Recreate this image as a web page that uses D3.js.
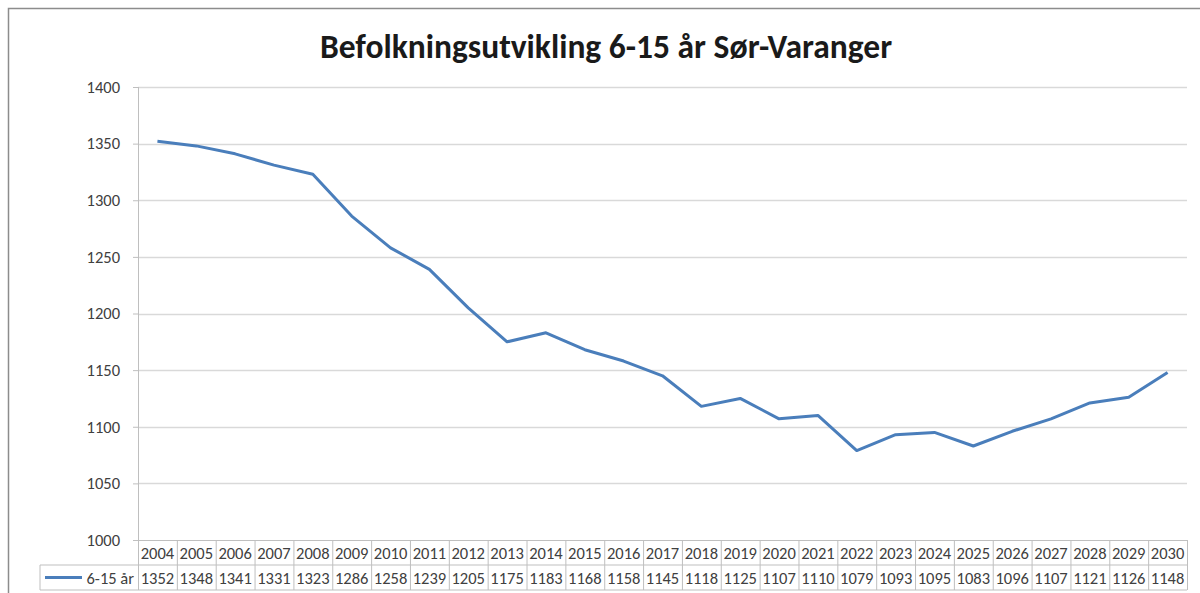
<!DOCTYPE html>
<html>
<head>
<meta charset="utf-8">
<script src="https://cdn.jsdelivr.net/npm/d3@7"></script>
<style>
  body { margin: 0; background: #fff; }
  text { font-family: Carlito, Calibri, Lato, sans-serif; }
</style>
</head>
<body>
<div id="chart"></div>
<script>
// data
var years = [2004, 2005, 2006, 2007, 2008, 2009, 2010, 2011, 2012, 2013, 2014, 2015, 2016, 2017,
             2018, 2019, 2020, 2021, 2022, 2023, 2024, 2025, 2026, 2027, 2028, 2029, 2030];
var values = [1352, 1348, 1341, 1331, 1323, 1286, 1258, 1239, 1205, 1175, 1183, 1168, 1158, 1145,
              1118, 1125, 1107, 1110, 1079, 1093, 1095, 1083, 1096, 1107, 1121, 1126, 1148];
var yTicks = [1000, 1050, 1100, 1150, 1200, 1250, 1300, 1350, 1400];
var seriesName = "6-15 år";
var title = "Befolkningsutvikling 6-15 år Sør-Varanger";

var W = 1200, H = 593;
var margin = {top: 87, left: 138, right: 13, bottom: 53};
var width = W - margin.left - margin.right,
    height = H - margin.top - margin.bottom;
var rowH = 25;
var lineColor = "#4a7ebb";
var gridColor = "#d9d9d9";
var textColor = "#404040";
var cellFont = "16.5px";

var svg = d3.select("#chart").append("svg")
    .attr("width", W)
    .attr("height", H);

// outer chart frame (only the top and left show in the crop)
svg.append("path")
    .attr("d", "M8.5," + H + "V8.5H" + W)
    .attr("fill", "none")
    .attr("stroke", "#8c8c8c")
    .attr("stroke-width", 1.5);

svg.append("text")
    .attr("x", 606)
    .attr("y", 58)
    .attr("text-anchor", "middle")
    .style("font-size", "33.5px")
    .style("font-weight", "bold")
    .style("fill", "#1a1a1a")
    .text(title);

var g = svg.append("g")
    .attr("transform", "translate(" + margin.left + "," + margin.top + ")");

var x = d3.scaleBand()
    .domain(years)
    .range([0, width]);

var y = d3.scaleLinear()
    .domain([1000, 1400])
    .range([height, 0]);

// gridlines
g.selectAll(".grid")
    .data(yTicks.slice(1))
    .enter()
    .append("line")
    .attr("x1", 0)
    .attr("x2", width)
    .attr("y1", function(d) { return Math.round(y(d)) + 0.5; })
    .attr("y2", function(d) { return Math.round(y(d)) + 0.5; })
    .attr("stroke", gridColor)
    .attr("stroke-width", 1.5);

// y axis
var yAxis = g.append("g")
    .call(d3.axisLeft(y).tickValues(yTicks).tickFormat(d3.format("d")).tickSize(5).tickPadding(13));
yAxis.select(".domain").attr("stroke", "#bfbfbf").attr("d", "M0.5,0V" + height);
yAxis.selectAll(".tick line").attr("stroke", "#bfbfbf");
yAxis.selectAll(".tick text")
    .style("font-size", "16.5px")
    .style("fill", textColor);

// data table under the plot
var table = g.append("g").attr("transform", "translate(0," + height + ")");
var tableLeft = 40 - margin.left;

table.append("line")
    .attr("x1", 0).attr("x2", width)
    .attr("y1", 0.5).attr("y2", 0.5)
    .attr("stroke", "#bfbfbf");
table.append("line")
    .attr("x1", tableLeft).attr("x2", width)
    .attr("y1", rowH).attr("y2", rowH)
    .attr("stroke", "#bfbfbf");
table.append("line")
    .attr("x1", tableLeft).attr("x2", width)
    .attr("y1", rowH * 2).attr("y2", rowH * 2)
    .attr("stroke", "#bfbfbf");
table.append("line")
    .attr("x1", tableLeft).attr("x2", tableLeft)
    .attr("y1", rowH).attr("y2", rowH * 2)
    .attr("stroke", "#bfbfbf");

table.selectAll(".sep")
    .data(years.concat(["end"]))
    .enter()
    .append("line")
    .attr("x1", function(d, i) { return i * x.bandwidth() + 0.5; })
    .attr("x2", function(d, i) { return i * x.bandwidth() + 0.5; })
    .attr("y1", 0)
    .attr("y2", rowH * 2)
    .attr("stroke", "#bfbfbf");

table.selectAll(".yr")
    .data(years)
    .enter()
    .append("text")
    .attr("x", function(d) { return x(d) + x.bandwidth() / 2; })
    .attr("y", rowH / 2 + 6)
    .attr("text-anchor", "middle")
    .style("font-size", cellFont)
    .style("fill", textColor)
    .text(function(d) { return d; });

table.selectAll(".val")
    .data(values)
    .enter()
    .append("text")
    .attr("x", function(d, i) { return x(years[i]) + x.bandwidth() / 2; })
    .attr("y", rowH * 1.5 + 6)
    .attr("text-anchor", "middle")
    .style("font-size", cellFont)
    .style("fill", textColor)
    .text(function(d) { return d; });

// legend key in the table
table.append("line")
    .attr("x1", tableLeft + 5).attr("x2", tableLeft + 42)
    .attr("y1", rowH * 1.5).attr("y2", rowH * 1.5)
    .attr("stroke", lineColor)
    .attr("stroke-width", 3);
table.append("text")
    .attr("x", -4)
    .attr("y", rowH * 1.5 + 6)
    .attr("text-anchor", "end")
    .style("font-size", cellFont)
    .style("fill", textColor)
    .text(seriesName);

// the line
var line = d3.line()
    .x(function(d, i) { return x(years[i]) + x.bandwidth() / 2; })
    .y(function(d) { return y(d); });

g.append("path")
    .datum(values)
    .attr("d", line)
    .attr("fill", "none")
    .attr("stroke", lineColor)
    .attr("stroke-width", 3)
    .attr("stroke-linejoin", "round");
</script>
</body>
</html>
